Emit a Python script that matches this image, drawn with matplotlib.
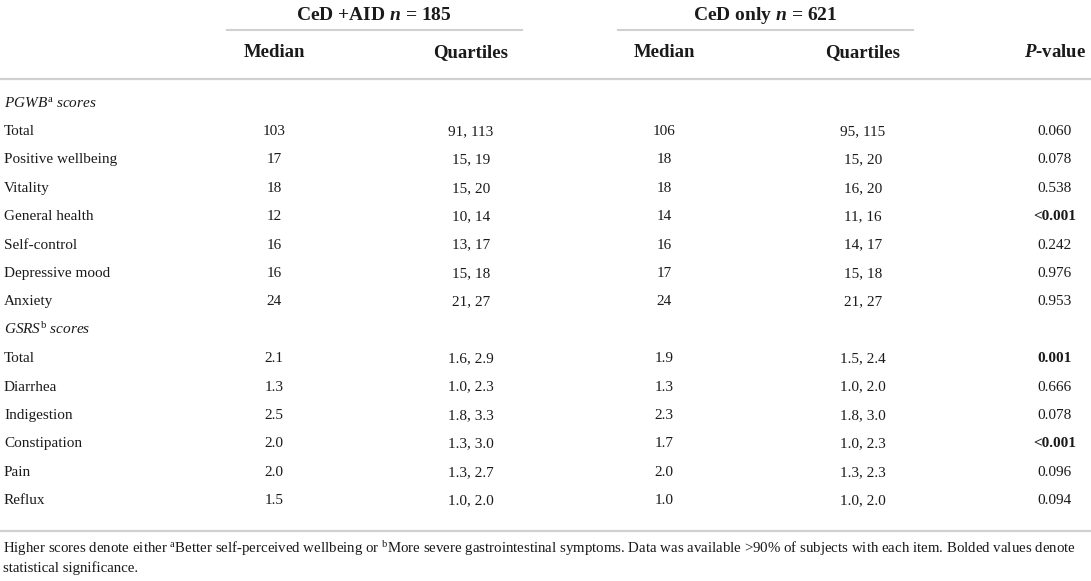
import matplotlib
matplotlib.use("Agg")
import matplotlib.pyplot as plt

plt.rcParams['font.family'] = ['Liberation Serif', 'DejaVu Serif']
plt.rcParams['mathtext.fontset'] = 'custom'
plt.rcParams['mathtext.rm'] = 'Liberation Serif'
plt.rcParams['mathtext.it'] = 'Liberation Serif:italic'
plt.rcParams['mathtext.bf'] = 'Liberation Serif:bold'
plt.rcParams['mathtext.bfit'] = 'Liberation Serif:italic:bold'

# table data
group_headers = [r"CeD +AID $\mathbfit{n}$ = 185", r"CeD only $\mathbfit{n}$ = 621"]
col_headers = ["Median", "Quartiles", "Median", "Quartiles", r"$\mathbfit{P}$-value"]

section_pgwb = r"$PGWB^{\mathrm{a}}\ scores$"
section_gsrs = r"$GSRS^{\mathrm{b}}\ scores$"

pgwb_labels = ["Total", "Positive wellbeing", "Vitality", "General health",
               "Self-control", "Depressive mood", "Anxiety"]
pgwb_med_aid = ["103", "17", "18", "12", "16", "16", "24"]
pgwb_q_aid = ["91, 113", "15, 19", "15, 20", "10, 14", "13, 17", "15, 18", "21, 27"]
pgwb_med_only = ["106", "18", "18", "14", "16", "17", "24"]
pgwb_q_only = ["95, 115", "15, 20", "16, 20", "11, 16", "14, 17", "15, 18", "21, 27"]
pgwb_p = ["0.060", "0.078", "0.538", "<0.001", "0.242", "0.976", "0.953"]

gsrs_labels = ["Total", "Diarrhea", "Indigestion", "Constipation", "Pain", "Reflux"]
gsrs_med_aid = ["2.1", "1.3", "2.5", "2.0", "2.0", "1.5"]
gsrs_q_aid = ["1.6, 2.9", "1.0, 2.3", "1.8, 3.3", "1.3, 3.0", "1.3, 2.7", "1.0, 2.0"]
gsrs_med_only = ["1.9", "1.3", "2.3", "1.7", "2.0", "1.0"]
gsrs_q_only = ["1.5, 2.4", "1.0, 2.0", "1.8, 3.0", "1.0, 2.3", "1.3, 2.3", "1.0, 2.0"]
gsrs_p = ["0.001", "0.666", "0.078", "<0.001", "0.096", "0.094"]
significant = ["<0.001", "0.001"]

footnote = [r"Higher scores denote either $^{\mathrm{a}}$Better self-perceived wellbeing or "
            r"$^{\mathrm{b}}$More severe gastrointestinal symptoms. Data was available >90% of "
            r"subjects with each item. Bolded values denote",
            "statistical significance."]

W, H = 1091, 581
fig = plt.figure(figsize=(W / 100, H / 100), dpi=100)
ax = fig.add_axes([0, 0, 1, 1])
ax.set_xlim(0, W)
ax.set_ylim(H, 0)
ax.axis("off")

txt_color = "#1a1a1a"
line_color = "#d0d0d0"
fs = 11
hfs = 13.5
col_x = [274, 471, 664, 863, 1055]
step = 28.4

# group headers and their underlines
ax.text(374, 20, group_headers[0], ha="center", va="baseline", fontsize=14,
        fontweight="bold", color=txt_color)
ax.text(765, 20, group_headers[1], ha="center", va="baseline", fontsize=14,
        fontweight="bold", color=txt_color)
ax.plot([227, 522], [30, 30], color=line_color, lw=1.5)
ax.plot([618, 913], [30, 30], color=line_color, lw=1.5)

for x, h in zip(col_x, col_headers):
    ax.text(x, 57, h, ha="center", va="baseline", fontsize=hfs,
            fontweight="bold", color=txt_color)
ax.plot([0, W], [79, 79], color=line_color, lw=1.6)


def draw_rows(y0, labels, m1, q1, m2, q2, p):
    for i, lab in enumerate(labels):
        y = y0 + i * step + 5
        ax.text(4, y, lab, ha="left", va="baseline", fontsize=fs, color=txt_color)
        for x, v in zip(col_x[:4], [m1[i], q1[i], m2[i], q2[i]]):
            ax.text(x, y, v, ha="center", va="baseline", fontsize=fs, color=txt_color)
        bold = p[i] in significant
        ax.text(col_x[4], y, p[i], ha="center", va="baseline", fontsize=fs,
                color=txt_color, fontweight="bold" if bold else "normal")


y_total = 130
ax.text(4, y_total - step + 5, section_pgwb, ha="left", va="baseline", fontsize=fs,
        color=txt_color)
draw_rows(y_total, pgwb_labels, pgwb_med_aid, pgwb_q_aid, pgwb_med_only, pgwb_q_only, pgwb_p)
y_gsrs = y_total + len(pgwb_labels) * step
ax.text(4, y_gsrs + 5, section_gsrs, ha="left", va="baseline", fontsize=fs, color=txt_color)
draw_rows(y_gsrs + step, gsrs_labels, gsrs_med_aid, gsrs_q_aid, gsrs_med_only,
          gsrs_q_only, gsrs_p)

ax.plot([0, W], [531, 531], color=line_color, lw=1.6)
ax.text(3, 553, footnote[0], ha="left", va="baseline", fontsize=10.7, color=txt_color)
ax.text(3, 572, footnote[1], ha="left", va="baseline", fontsize=10.7, color=txt_color)

fig.savefig("out.png", dpi=100, facecolor="white")
